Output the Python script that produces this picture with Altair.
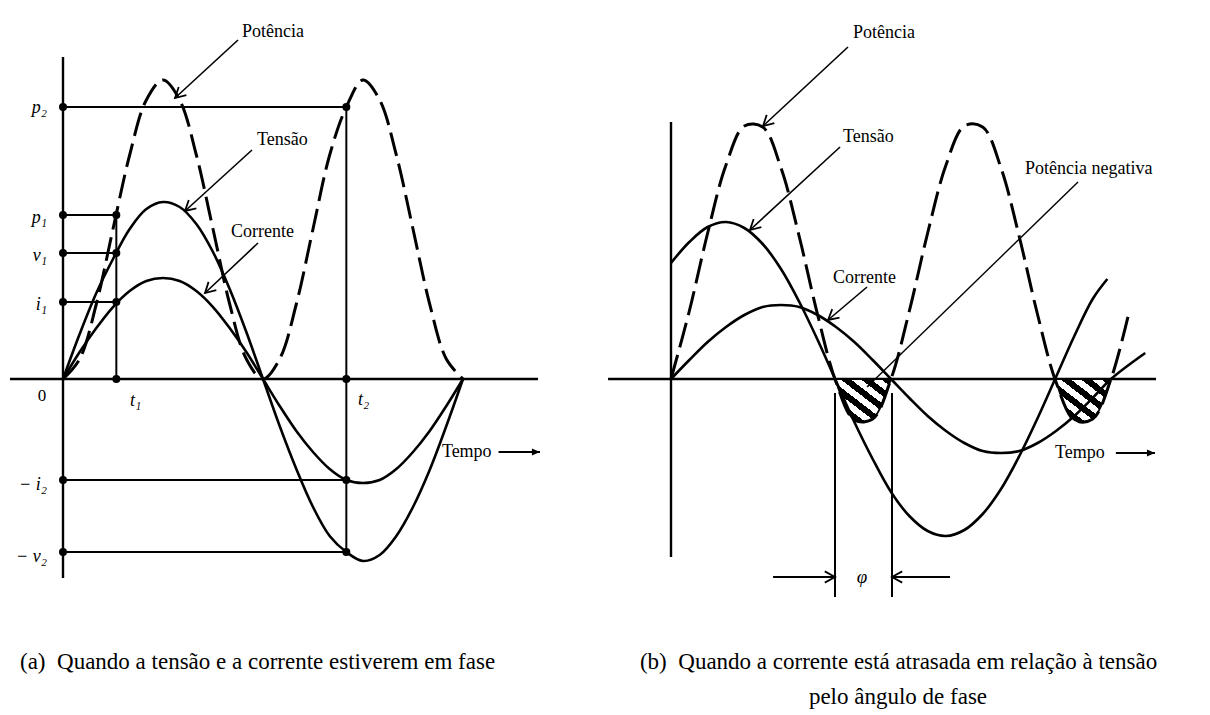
import math
import altair as alt
import pandas as pd

FONT = "Liberation Serif"
W, H = 597, 699
YDOM = [-328, 371]

# ---------------- Panel (a): voltage and current in phase ----------------
A_XDOM = [-49.5, 487.8]          # angle (degrees)
A_ANG = list(range(0, 361, 15))
A_TENSAO = [0, 45, 86, 120, 150, 170, 177, 172, 155, 127, 90, 47, 0,
            -47, -90, -128, -157, -173, -182, -176, -157, -128, -91, -47, 0]
A_CORRENTE = [0, 27, 51, 72, 88, 98, 101, 98, 88, 72, 51, 27, 0,
              -27, -52, -73, -90, -101, -104, -101, -90, -73, -52, -27, 0]
A_POTENCIA = [0, 20, 75, 150, 224, 279, 299, 279, 224, 150, 75, 20, 0,
              20, 75, 150, 224, 272, 299, 279, 224, 150, 75, 20, 0]
A_T1, A_T2 = 48, 255
A_P1, A_V1, A_I1 = 164, 126, 77
A_P2, A_MI2, A_MV2 = 272, -101, -173
A_VAXIS = (322, -199)
A_HAXIS = (-47.7, 427.5)

A_LABELS = ["Potência", "Tensão", "Corrente", "Tempo"]
A_LABEL_X = [161, 174.6, 151.2, 341]
A_LABEL_Y = [347, 239, 147, -73]
A_ARROWS = [((157.5, 339), (100.8, 281)),
            ((170.1, 229), (109.8, 168)),
            ((175.5, 136), (127.8, 86))]
A_TEMPO_ARROW = ((392, -73), (429.3, -73))
A_TICKS_R = ["p₂", "p₁", "v₁", "i₁", "− i₂", "− v₂"]
A_TICKS_R_Y = [A_P2 - 1, A_P1 - 3, A_V1 - 3, A_I1 - 3, A_MI2 - 5, A_MV2 - 5]
A_TICKS_R_X = -14.4
A_TICKS_L = ["t₁", "t₂"]
A_TICKS_L_X = [60.3, 265.5]
A_TICKS_L_Y = [-22, -21]
A_ZERO = ("0", -18.9, -17)
A_CAPTION = ("(a)\u00a0 Quando a tensão e a corrente estiverem em fase", -38.7, -283)

# ---------------- Panel (b): current lagging voltage ----------------
B_XDOM = [-54.0, 434.45]
B_ANG_V = list(range(0, 346, 15)) + [357]
B_TENSAO = [116, 137, 152, 157, 151, 135, 110, 77, 39, -2, -43, -80, -113,
            -137, -152, -157, -151, -135, -110, -77, -39, 2, 43, 80, 100]
B_ANG_I = list(range(0, 361, 15)) + [388]
B_CORRENTE = [0, 19, 37, 52, 64, 72, 74, 72, 64, 52, 37, 19, 0,
              -19, -37, -52, -64, -72, -74, -72, -64, -52, -37, -19, 0, 26]
B_ANG_P = list(range(0, 376, 15))
B_POTENCIA = [0, 68, 146, 214, 253, 252, 211, 142, 64, -3, -41, -40, 0,
              68, 146, 214, 253, 252, 211, 142, 64, -3, -41, -40, 0, 68]
B_ZERO_V = [134.2, 314.2]
B_ZERO_I = [180, 360]
B_VAXIS = (257, -178)
B_HAXIS = (-51.5, 396.8)
B_PHASE_Y = (-14, -218)
B_PHASE_ARROW_Y = -198

B_LABELS = ["Potência", "Tensão", "Corrente", "Potência negativa", "Tempo"]
B_LABEL_X = [148.9, 140.7, 132.5, 289.6, 314.2]
B_LABEL_Y = [346, 242, 101, 210, -74]
B_ARROWS = [((144.8, 332), (75.3, 253)),
            ((138.3, 232), (64.6, 149)),
            ((160.4, 92), (128.5, 59))]
B_NEG_ARROW = ((333, 197), (160.4, -8))
B_TEMPO_ARROW = ((364, -74), (396, -74))
B_PHASE_ARROWS = [((83.5, B_PHASE_ARROW_Y), (B_ZERO_V[0], B_PHASE_ARROW_Y)),
                  ((228.3, B_PHASE_ARROW_Y), (B_ZERO_I[0] + 0.8, B_PHASE_ARROW_Y))]
B_PHI = ("φ", 156.3, B_PHASE_ARROW_Y)
B_CAPTION1 = ("(b)\u00a0 Quando a corrente está atrasada em relação à tensão", -25.4, -283)
B_CAPTION2 = ("pelo ângulo de fase", 185.7, -318)

OPEN_HEAD = "M-1,-0.55L0,0L-1,0.55"
FILLED_HEAD = "M-1,-0.42L0,0L-1,0.42Z"
INTERP = "catmull-rom"


def X(dom):
    return alt.X("x:Q", scale=alt.Scale(domain=dom, nice=False, zero=False), axis=None)


def Y():
    return alt.Y("y:Q", scale=alt.Scale(domain=YDOM, nice=False, zero=False), axis=None)


def segs(dom, rows, width, dash=None):
    df = pd.DataFrame(rows, columns=["x", "y", "x2", "y2"])
    kw = dict(color="black", strokeWidth=width)
    if dash:
        kw["strokeDash"] = dash
    return alt.Chart(df).mark_rule(**kw).encode(
        x=X(dom), y=Y(), x2="x2:Q", y2="y2:Q")


def heads(dom, arrows, shape, size, filled):
    kx = W / (dom[1] - dom[0])
    rows = []
    for (x0, y0), (x1, y1) in arrows:
        ang = math.degrees(math.atan2(-(y1 - y0), (x1 - x0) * kx)) % 360
        rows.append({"x": x1, "y": y1, "a": ang})
    df = pd.DataFrame(rows)
    if filled:
        m = alt.Chart(df).mark_point(shape=shape, size=size, filled=True,
                                     color="black", opacity=1, strokeWidth=1)
    else:
        m = alt.Chart(df).mark_point(shape=shape, size=size, filled=False,
                                     color="black", opacity=1, strokeWidth=1.8)
    return m.encode(x=X(dom), y=Y(), angle=alt.Angle("a:Q", scale=None))


def shafts(dom, arrows, width):
    return segs(dom, [(a[0], a[1], b[0], b[1]) for a, b in arrows], width)


def texts(dom, labels, xs, ys, size=18, align="left", style="normal"):
    df = pd.DataFrame({"x": xs, "y": ys, "t": labels})
    return alt.Chart(df).mark_text(align=align, baseline="middle", font=FONT,
                                   fontSize=size, fontStyle=style, color="black").encode(
        x=X(dom), y=Y(), text="t:N")


def curve(dom, angs, vals, width, dash=None):
    df = pd.DataFrame({"x": angs, "y": vals, "o": range(len(angs))})
    kw = dict(color="black", strokeWidth=width, interpolate=INTERP)
    if dash:
        kw["strokeDash"] = dash
        kw["strokeCap"] = "butt"
    return alt.Chart(df).mark_line(**kw).encode(x=X(dom), y=Y(), order="o:Q")


# ---------- build panel (a) ----------
d = A_XDOM
a_axes = segs(d, [(0, A_VAXIS[0], 0, A_VAXIS[1]), (A_HAXIS[0], 0, A_HAXIS[1], 0)], 2.4)
a_guides = segs(d, [
    (0, A_P1, A_T1, A_P1), (0, A_V1, A_T1, A_V1), (0, A_I1, A_T1, A_I1),
    (A_T1, 0, A_T1, A_P1),
    (0, A_P2, A_T2, A_P2), (0, A_MI2, A_T2, A_MI2), (0, A_MV2, A_T2, A_MV2),
    (A_T2, A_P2, A_T2, A_MV2)], 2.0)
a_dots_df = pd.DataFrame({
    "x": [0, A_T1, 0, A_T1, 0, A_T1, A_T1, 0, A_T2, A_T2, 0, A_T2, 0, A_T2],
    "y": [A_P1, A_P1, A_V1, A_V1, A_I1, A_I1, 0, A_P2, A_P2, 0, A_MI2, A_MI2, A_MV2, A_MV2]})
a_dots = alt.Chart(a_dots_df).mark_circle(size=64, color="black", opacity=1).encode(x=X(d), y=Y())

panel_a = alt.layer(
    a_axes, a_guides,
    curve(d, A_ANG, A_TENSAO, 2.6),
    curve(d, A_ANG, A_CORRENTE, 2.6),
    curve(d, A_ANG, A_POTENCIA, 3.0, dash=[24, 8]),
    a_dots,
    shafts(d, A_ARROWS, 1.6),
    heads(d, A_ARROWS, OPEN_HEAD, 420, False),
    shafts(d, [A_TEMPO_ARROW], 1.8),
    heads(d, [A_TEMPO_ARROW], FILLED_HEAD, 260, True),
    texts(d, A_LABELS, A_LABEL_X, A_LABEL_Y, size=18),
    texts(d, A_TICKS_R, [A_TICKS_R_X] * len(A_TICKS_R), A_TICKS_R_Y, size=18,
          align="right", style="italic"),
    texts(d, A_TICKS_L, A_TICKS_L_X, A_TICKS_L_Y, size=18, style="italic"),
    texts(d, [A_ZERO[0]], [A_ZERO[1]], [A_ZERO[2]], size=17, align="center"),
    texts(d, [A_CAPTION[0]], [A_CAPTION[1]], [A_CAPTION[2]], size=23),
).properties(width=W, height=H)

# ---------- build panel (b) ----------
d = B_XDOM
b_axes = segs(d, [(0, B_VAXIS[0], 0, B_VAXIS[1]), (B_HAXIS[0], 0, B_HAXIS[1], 0)], 2.4)
b_phase = segs(d, [(B_ZERO_V[0], B_PHASE_Y[0], B_ZERO_V[0], B_PHASE_Y[1]),
                   (B_ZERO_I[0] + 0.8, B_PHASE_Y[0], B_ZERO_I[0] + 0.8, B_PHASE_Y[1])], 2.0)

neg_rows = []
for zv, zi in zip(B_ZERO_V, B_ZERO_I):
    neg_rows.append({"x": zv, "y": 0, "y0": 0, "g": zv})
    for a, p in zip(B_ANG_P, B_POTENCIA):
        if zv < a < zi:
            neg_rows.append({"x": a, "y": p, "y0": 0, "g": zv})
    neg_rows.append({"x": zi, "y": 0, "y0": 0, "g": zv})
neg_df = pd.DataFrame(neg_rows)
stops = []
NB = 11
for k in range(NB):
    col = "black" if k % 2 == 0 else "white"
    stops.append({"offset": k / NB, "color": col})
    stops.append({"offset": (k + 1) / NB, "color": col})
hatch = {"gradient": "linear", "x1": 0, "y1": 1, "x2": 1, "y2": 0, "stops": stops}
b_neg = alt.Chart(neg_df).mark_area(fill=hatch, stroke="black", strokeWidth=1.8,
                                    interpolate=INTERP, opacity=1).encode(
    x=X(d), y=Y(), y2="y0:Q", detail="g:N")

panel_b = alt.layer(
    b_axes, b_phase, b_neg,
    curve(d, B_ANG_V, B_TENSAO, 2.6),
    curve(d, B_ANG_I, B_CORRENTE, 2.6),
    curve(d, B_ANG_P, B_POTENCIA, 3.0, dash=[25, 8]),
    shafts(d, B_ARROWS, 1.6),
    heads(d, B_ARROWS, OPEN_HEAD, 420, False),
    shafts(d, [B_NEG_ARROW], 1.4),
    heads(d, [B_NEG_ARROW], FILLED_HEAD, 300, True),
    shafts(d, [B_TEMPO_ARROW], 1.8),
    heads(d, [B_TEMPO_ARROW], FILLED_HEAD, 260, True),
    shafts(d, B_PHASE_ARROWS, 1.8),
    heads(d, B_PHASE_ARROWS, OPEN_HEAD, 420, False),
    texts(d, B_LABELS, B_LABEL_X, B_LABEL_Y, size=18),
    texts(d, [B_PHI[0]], [B_PHI[1]], [B_PHI[2]], size=19, align="center", style="italic"),
    texts(d, [B_CAPTION1[0]], [B_CAPTION1[1]], [B_CAPTION1[2]], size=23),
    texts(d, [B_CAPTION2[0]], [B_CAPTION2[1]], [B_CAPTION2[2]], size=23, align="center"),
).properties(width=W, height=H)

chart = alt.hconcat(panel_a, panel_b, spacing=0).properties(
    padding=0, background="white"
).configure_view(stroke=None).configure_concat(spacing=0)

chart.save("out.html", embed_options={"renderer": "svg", "actions": False})
